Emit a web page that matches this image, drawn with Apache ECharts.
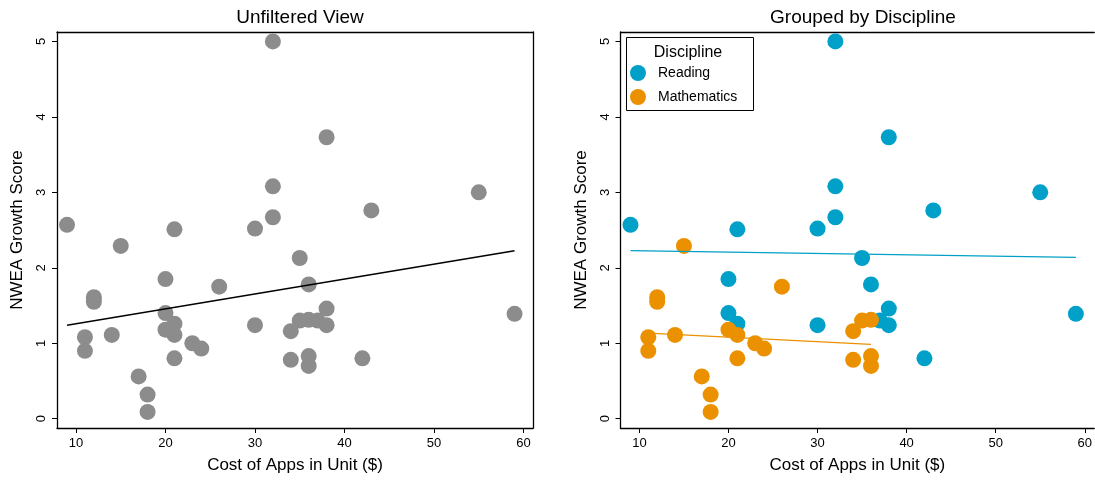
<!DOCTYPE html>
<html>
<head>
<meta charset="utf-8">
<script src="https://cdn.jsdelivr.net/npm/echarts@6/dist/echarts.min.js"></script>
<style>
html,body{margin:0;padding:0;background:#fff;}
#chart{width:1095px;height:480px;}
</style>
</head>
<body>
<div id="chart"></div>
<script>
// ---- data ----
const readingCost  = [32, 38, 32, 55, 32, 43, 9, 30, 21, 35, 20, 36, 38, 59, 20, 37, 38, 30, 21, 42];
const readingScore = [5.00, 3.73, 3.08, 3.00, 2.67, 2.76, 2.57, 2.52, 2.51, 2.13, 1.85, 1.78, 1.46, 1.39, 1.40, 1.30, 1.24, 1.24, 1.26, 0.80];
const mathCost  = [15, 26, 12, 12, 35, 36, 20, 34, 11, 14, 21, 23, 24, 11, 21, 34, 36, 36, 17, 18, 18];
const mathScore = [2.29, 1.75, 1.61, 1.55, 1.30, 1.31, 1.18, 1.16, 1.08, 1.11, 1.11, 1.00, 0.93, 0.90, 0.80, 0.78, 0.83, 0.70, 0.56, 0.32, 0.09];
const xTicks = [10, 20, 30, 40, 50, 60];
const yTicks = [0, 1, 2, 3, 4, 5];
const groupNames = ['Reading', 'Mathematics'];

// ---- helpers ----
function pairs(xs, ys) { return xs.map((x, i) => [x, ys[i]]); }
function fitLine(xs, ys) {
  const n = xs.length;
  const mx = xs.reduce((a, b) => a + b, 0) / n;
  const my = ys.reduce((a, b) => a + b, 0) / n;
  let sxy = 0, sxx = 0;
  for (let i = 0; i < n; i++) { sxy += (xs[i] - mx) * (ys[i] - my); sxx += (xs[i] - mx) ** 2; }
  const b = sxy / sxx, a = my - b * mx;
  const x0 = Math.min(...xs), x1 = Math.max(...xs);
  return [[x0, a + b * x0], [x1, a + b * x1]];
}

const allCost = readingCost.concat(mathCost);
const allScore = readingScore.concat(mathScore);

const GREY = '#8c8c8c', BLUE = '#00a0c8', ORANGE = '#eb9100';
const FONT = 'Liberation Sans, Arial, Helvetica, sans-serif';
const XMIN = 7.88, XMAX = 61.06, YMIN = -0.123, YMAX = 5.125;

function xAxisDef(gi) {
  return {
    type: 'value', gridIndex: gi, min: XMIN, max: XMAX, position: 'bottom',
    name: 'Cost of Apps in Unit ($)', nameLocation: 'middle', nameGap: 29,
    nameTextStyle: { fontSize: 17, color: '#000', fontFamily: FONT },
    axisLine: { show: true, onZero: false, lineStyle: { color: '#000', width: 1.3 } },
    axisTick: { show: true, length: 5, lineStyle: { color: '#000', width: 1 }, customValues: xTicks },
    axisLabel: { fontSize: 13, color: '#000', fontFamily: FONT, margin: 9, customValues: xTicks },
    splitLine: { show: false }
  };
}
function topAxisDef(gi) {
  return {
    type: 'value', gridIndex: gi, min: XMIN, max: XMAX, position: 'top',
    axisLine: { show: true, onZero: false, lineStyle: { color: '#000', width: 1.3 } },
    axisTick: { show: false }, axisLabel: { show: false }, splitLine: { show: false }
  };
}
function yAxisDef(gi) {
  return {
    type: 'value', gridIndex: gi, min: YMIN, max: YMAX, position: 'left',
    name: 'NWEA Growth Score', nameLocation: 'middle', nameGap: 31,
    nameTextStyle: { fontSize: 17, color: '#000', fontFamily: FONT },
    axisLine: { show: true, onZero: false, lineStyle: { color: '#000', width: 1.3 } },
    axisTick: { show: true, length: 5, lineStyle: { color: '#000', width: 1 }, customValues: yTicks },
    axisLabel: { fontSize: 13, color: '#000', fontFamily: FONT, margin: 9, rotate: 90, customValues: yTicks },
    splitLine: { show: false }
  };
}
function rightAxisDef(gi) {
  return {
    type: 'value', gridIndex: gi, min: YMIN, max: YMAX, position: 'right',
    axisLine: { show: true, onZero: false, lineStyle: { color: '#000', width: 1.3 } },
    axisTick: { show: false }, axisLabel: { show: false }, splitLine: { show: false }
  };
}

const chart = echarts.init(document.getElementById('chart'), null, { renderer: 'canvas' });
chart.setOption({
  animation: false,
  backgroundColor: '#fff',
  textStyle: { fontFamily: FONT },
  title: [
    { text: 'Unfiltered View', left: 295, top: 3, textAlign: 'center',
      textStyle: { fontSize: 19, fontWeight: 'normal', color: '#000', fontFamily: FONT } },
    { text: 'Grouped by Discipline', left: 858, top: 3, textAlign: 'center',
      textStyle: { fontSize: 19, fontWeight: 'normal', color: '#000', fontFamily: FONT } }
  ],
  grid: [
    { left: 57, top: 32, width: 476, height: 396, show: false },
    { left: 620.5, top: 32, right: -1.5, height: 396, show: false }
  ],
  xAxis: [xAxisDef(0), topAxisDef(0), xAxisDef(1), topAxisDef(1)],
  yAxis: [yAxisDef(0), rightAxisDef(0), yAxisDef(1)],
  legend: {
    data: groupNames, z: 20, padding: 0,
    orient: 'vertical', left: 630, top: 65,
    itemWidth: 16, itemHeight: 16, itemGap: 8,
    icon: 'circle',
    textStyle: { fontSize: 14, color: '#000', fontFamily: FONT, padding: [0, 0, 0, 7] }
  },
  graphic: [
    { type: 'rect', shape: { x: 626.5, y: 37.5, width: 127, height: 73 },
      style: { fill: '#fff', stroke: '#000', lineWidth: 1 }, z: 5 },
    { type: 'text', x: 688, y: 53, z: 6,
      style: { text: 'Discipline', fontSize: 16, fill: '#000', fontFamily: FONT, align: 'center', verticalAlign: 'middle' } }
  ],
  series: [
    { type: 'scatter', xAxisIndex: 0, yAxisIndex: 0, name: 'All', data: pairs(allCost, allScore),
      symbolSize: 16, itemStyle: { color: GREY, opacity: 1 } },
    { type: 'line', xAxisIndex: 0, yAxisIndex: 0, name: 'AllFit', data: fitLine(allCost, allScore),
      symbol: 'none', lineStyle: { color: '#000', width: 1.3 }, z: 3 },
    { type: 'scatter', xAxisIndex: 2, yAxisIndex: 2, name: 'Reading', data: pairs(readingCost, readingScore),
      symbolSize: 16, itemStyle: { color: BLUE, opacity: 1 } },
    { type: 'scatter', xAxisIndex: 2, yAxisIndex: 2, name: 'Mathematics', data: pairs(mathCost, mathScore),
      symbolSize: 16, itemStyle: { color: ORANGE, opacity: 1 } },
    { type: 'line', xAxisIndex: 2, yAxisIndex: 2, name: 'ReadingFit', data: fitLine(readingCost, readingScore),
      symbol: 'none', lineStyle: { color: BLUE, width: 1.3 }, z: 3 },
    { type: 'line', xAxisIndex: 2, yAxisIndex: 2, name: 'MathFit', data: fitLine(mathCost, mathScore),
      symbol: 'none', lineStyle: { color: ORANGE, width: 1.3 }, z: 3 }
  ]
});
</script>
</body>
</html>
